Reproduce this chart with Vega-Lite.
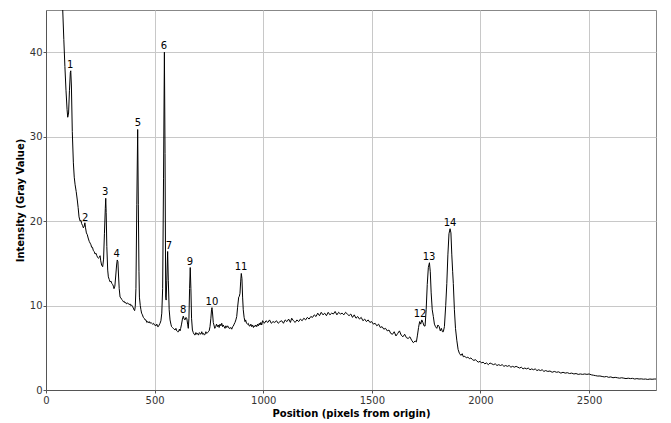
{
  "$schema": "https://vega.github.io/schema/vega-lite/v6.json",
  "width": 610,
  "height": 380,
  "autosize": {"type": "none"},
  "padding": {"left": 46, "top": 10, "right": 15, "bottom": 33},
  "background": "white",
  "config": {
    "font": "DejaVu Sans",
    "view": {"stroke": "#888888", "strokeWidth": 1},
    "axis": {
      "labelFont": "DejaVu Sans", "labelFontSize": 10, "labelColor": "#333333",
      "titleFont": "DejaVu Sans", "titleFontSize": 10, "titleFontWeight": "bold", "titleColor": "#000000",
      "gridColor": "#c8c8c8", "gridWidth": 1, "domainColor": "#555555", "tickColor": "#555555", "tickSize": 3
    }
  },
  "datasets": {
    "profile": [
      {"x":60,"y":60},{"x":72,"y":48},{"x":77,"y":45},{"x":82,"y":41.5},{"x":87,"y":38.3},{"x":92,"y":35.5},{"x":97,"y":33.2},{"x":100,"y":32.3},{"x":104,"y":32.8},{"x":108,"y":35.5},{"x":112,"y":37.6},{"x":114,"y":37.8},{"x":117,"y":36},{"x":121,"y":30.6},{"x":126,"y":26.9},{"x":130,"y":25.2},{"x":134,"y":24.3},{"x":139,"y":23.5},{"x":144,"y":22.5},{"x":148,"y":21.6},{"x":152,"y":20.5},{"x":157,"y":20.0},{"x":161,"y":20.1},{"x":164,"y":19.7},{"x":168,"y":19.5},{"x":172,"y":19.2},{"x":176,"y":19.4},{"x":179,"y":19.8},{"x":182,"y":19.2},{"x":186,"y":18.6},{"x":190,"y":18.4},{"x":194,"y":18.0},{"x":199,"y":17.6},{"x":203,"y":17.4},{"x":207,"y":17.2},{"x":210,"y":16.9},{"x":214,"y":16.9},{"x":218,"y":16.5},{"x":222,"y":16.4},{"x":226,"y":16.1},{"x":230,"y":16.2},{"x":234,"y":15.9},{"x":238,"y":15.7},{"x":241,"y":15.6},{"x":245,"y":15.7},{"x":249,"y":15.9},{"x":252,"y":15.3},{"x":256,"y":14.8},{"x":261,"y":14.6},{"x":265,"y":15.5},{"x":269,"y":18.5},{"x":273,"y":21.5},{"x":275,"y":22.7},{"x":277,"y":21},{"x":280,"y":17},{"x":284,"y":14.2},{"x":287,"y":13.4},{"x":291,"y":13.1},{"x":295,"y":12.8},{"x":299,"y":12.9},{"x":303,"y":12.6},{"x":307,"y":12.5},{"x":310,"y":12.3},{"x":313,"y":12.0},{"x":317,"y":12.3},{"x":321,"y":13.5},{"x":325,"y":14.8},{"x":328,"y":15.4},{"x":331,"y":15.2},{"x":334,"y":13.5},{"x":337,"y":12.0},{"x":341,"y":11.0},{"x":345,"y":10.9},{"x":349,"y":10.7},{"x":353,"y":10.6},{"x":356,"y":10.45},{"x":360,"y":10.5},{"x":364,"y":10.3},{"x":368,"y":10.35},{"x":372,"y":10.2},{"x":376,"y":10.3},{"x":379,"y":10.25},{"x":383,"y":10.1},{"x":387,"y":10.2},{"x":390,"y":10.0},{"x":394,"y":10.06},{"x":398,"y":9.9},{"x":402,"y":9.7},{"x":405,"y":9.5},{"x":408,"y":9.4},{"x":411,"y":9.9},{"x":414,"y":12},{"x":418,"y":22},{"x":422,"y":30.85},{"x":425,"y":22},{"x":428,"y":14},{"x":430,"y":11.0},{"x":434,"y":10.0},{"x":437,"y":9.5},{"x":440,"y":9.1},{"x":444,"y":8.9},{"x":448,"y":8.6},{"x":452,"y":8.5},{"x":456,"y":8.3},{"x":460,"y":8.3},{"x":464,"y":8.0},{"x":468,"y":8.1},{"x":471,"y":7.97},{"x":475,"y":8.1},{"x":479,"y":7.9},{"x":483,"y":8.0},{"x":487,"y":7.9},{"x":491,"y":7.8},{"x":495,"y":7.9},{"x":499,"y":7.7},{"x":502,"y":7.7},{"x":506,"y":7.6},{"x":510,"y":7.8},{"x":514,"y":7.5},{"x":517,"y":7.5},{"x":521,"y":7.7},{"x":525,"y":7.9},{"x":529,"y":8.2},{"x":533,"y":9.1},{"x":537,"y":12},{"x":541,"y":25},{"x":545,"y":40},{"x":548,"y":28},{"x":551,"y":11.0},{"x":553,"y":10.65},{"x":556,"y":13},{"x":560,"y":16.4},{"x":563,"y":13},{"x":567,"y":9.5},{"x":571,"y":8.3},{"x":575,"y":7.8},{"x":578,"y":7.5},{"x":582,"y":7.4},{"x":586,"y":7.3},{"x":590,"y":7.2},{"x":594,"y":7.1},{"x":598,"y":7.3},{"x":602,"y":7.0},{"x":606,"y":6.9},{"x":610,"y":6.9},{"x":614,"y":7.2},{"x":617,"y":7.0},{"x":620,"y":7.3},{"x":624,"y":7.8},{"x":628,"y":8.4},{"x":632,"y":8.75},{"x":636,"y":8.4},{"x":640,"y":8.3},{"x":644,"y":8.6},{"x":648,"y":8.5},{"x":652,"y":7.8},{"x":655,"y":7.3},{"x":658,"y":8.5},{"x":661,"y":12},{"x":664,"y":14.5},{"x":667,"y":12},{"x":670,"y":8.5},{"x":674,"y":7.1},{"x":678,"y":6.8},{"x":682,"y":6.6},{"x":686,"y":6.5},{"x":690,"y":6.8},{"x":694,"y":6.6},{"x":698,"y":6.7},{"x":702,"y":6.5},{"x":706,"y":6.8},{"x":709,"y":6.7},{"x":713,"y":6.6},{"x":717,"y":6.9},{"x":721,"y":6.6},{"x":725,"y":6.7},{"x":729,"y":6.5},{"x":732,"y":6.6},{"x":736,"y":6.9},{"x":740,"y":6.7},{"x":744,"y":6.8},{"x":747,"y":6.9},{"x":751,"y":7.0},{"x":755,"y":7.5},{"x":759,"y":8.5},{"x":762,"y":9.5},{"x":764,"y":9.75},{"x":767,"y":9.0},{"x":770,"y":8.0},{"x":773,"y":7.7},{"x":777,"y":7.3},{"x":781,"y":7.5},{"x":785,"y":7.8},{"x":789,"y":7.5},{"x":793,"y":7.7},{"x":797,"y":7.4},{"x":801,"y":7.8},{"x":805,"y":7.6},{"x":809,"y":7.9},{"x":813,"y":7.5},{"x":816,"y":7.7},{"x":820,"y":7.5},{"x":824,"y":7.3},{"x":828,"y":7.6},{"x":832,"y":7.4},{"x":836,"y":7.6},{"x":839,"y":7.5},{"x":843,"y":7.3},{"x":847,"y":7.3},{"x":851,"y":7.4},{"x":855,"y":7.2},{"x":859,"y":7.5},{"x":862,"y":7.55},{"x":866,"y":7.8},{"x":870,"y":8.0},{"x":874,"y":8.3},{"x":878,"y":8.7},{"x":882,"y":9.8},{"x":887,"y":11.0},{"x":890,"y":11.1},{"x":893,"y":11.45},{"x":896,"y":12.8},{"x":899,"y":13.8},{"x":902,"y":13.2},{"x":905,"y":11},{"x":908,"y":9.5},{"x":912,"y":8.6},{"x":916,"y":8.1},{"x":919,"y":8.3},{"x":923,"y":7.9},{"x":927,"y":7.8},{"x":931,"y":7.9},{"x":935,"y":7.6},{"x":939,"y":7.57},{"x":943,"y":7.8},{"x":947,"y":7.5},{"x":951,"y":7.7},{"x":955,"y":7.4},{"x":958,"y":7.6},{"x":962,"y":7.5},{"x":966,"y":7.7},{"x":970,"y":7.5},{"x":974,"y":7.8},{"x":978,"y":7.6},{"x":982,"y":7.9},{"x":985,"y":7.7},{"x":989,"y":8.0},{"x":993,"y":7.7},{"x":997,"y":8.2},{"x":1001,"y":8.1},
      {"x":1005,"y":7.9},{"x":1013,"y":8.2},{"x":1021,"y":8.0},{"x":1029,"y":8.3},{"x":1037,"y":7.9},{"x":1045,"y":8.1},{"x":1053,"y":8.0},{"x":1061,"y":8.2},{"x":1069,"y":7.9},{"x":1077,"y":8.1},{"x":1085,"y":8.2},{"x":1093,"y":7.9},{"x":1101,"y":8.3},{"x":1109,"y":8.1},{"x":1117,"y":8.4},{"x":1125,"y":8.0},{"x":1131,"y":8.5},{"x":1139,"y":8.2},{"x":1147,"y":8.0},{"x":1155,"y":8.3},{"x":1163,"y":8.1},{"x":1171,"y":8.4},{"x":1179,"y":8.2},{"x":1187,"y":8.5},{"x":1195,"y":8.3},{"x":1203,"y":8.6},{"x":1211,"y":8.4},{"x":1219,"y":8.7},{"x":1227,"y":8.6},{"x":1235,"y":8.9},{"x":1243,"y":8.7},{"x":1251,"y":9.1},{"x":1259,"y":8.8},{"x":1267,"y":9.2},{"x":1275,"y":8.9},{"x":1283,"y":9.1},{"x":1291,"y":8.8},{"x":1299,"y":9.2},{"x":1307,"y":8.9},{"x":1315,"y":9.1},{"x":1323,"y":9.0},{"x":1331,"y":9.3},{"x":1339,"y":8.9},{"x":1347,"y":9.2},{"x":1355,"y":9.0},{"x":1363,"y":9.1},{"x":1371,"y":8.9},{"x":1379,"y":9.2},{"x":1387,"y":9.0},{"x":1395,"y":8.8},{"x":1403,"y":9.0},{"x":1411,"y":8.6},{"x":1419,"y":8.9},{"x":1427,"y":8.5},{"x":1435,"y":8.7},{"x":1443,"y":8.4},{"x":1451,"y":8.6},{"x":1459,"y":8.2},{"x":1467,"y":8.4},{"x":1475,"y":8.1},{"x":1483,"y":8.3},{"x":1491,"y":8.0},{"x":1499,"y":8.1},{"x":1507,"y":7.8},{"x":1515,"y":7.9},{"x":1523,"y":7.6},{"x":1531,"y":7.8},{"x":1539,"y":7.4},{"x":1547,"y":7.5},{"x":1555,"y":7.2},{"x":1563,"y":7.3},{"x":1571,"y":7.0},{"x":1579,"y":7.1},{"x":1587,"y":6.7},{"x":1595,"y":6.6},{"x":1603,"y":6.9},{"x":1611,"y":6.4},{"x":1619,"y":6.7},{"x":1627,"y":7.0},{"x":1635,"y":6.5},{"x":1643,"y":6.3},{"x":1651,"y":6.6},{"x":1659,"y":6.2},{"x":1667,"y":6.1},{"x":1675,"y":6.3},{"x":1683,"y":5.9},{"x":1691,"y":5.6},{"x":1699,"y":5.8},{"x":1705,"y":5.7},{"x":1710,"y":6.5},{"x":1715,"y":7.4},{"x":1720,"y":8.1},{"x":1725,"y":7.8},{"x":1730,"y":8.3},{"x":1735,"y":8.0},{"x":1740,"y":7.6},{"x":1745,"y":7.57},{"x":1750,"y":9.5},{"x":1755,"y":12.5},{"x":1760,"y":14.5},{"x":1765,"y":15.07},{"x":1769,"y":14},{"x":1773,"y":11.5},{"x":1778,"y":9.5},{"x":1783,"y":8.7},{"x":1788,"y":7.8},{"x":1793,"y":7.5},{"x":1799,"y":7.3},{"x":1804,"y":7.7},{"x":1810,"y":7.5},{"x":1815,"y":7.0},{"x":1820,"y":7.3},{"x":1825,"y":6.9},{"x":1829,"y":6.9},{"x":1834,"y":7.5},{"x":1840,"y":10.0},{"x":1845,"y":12.6},{"x":1850,"y":16},{"x":1855,"y":18.5},{"x":1860,"y":19.1},{"x":1864,"y":18.6},{"x":1868,"y":16},{"x":1872,"y":14},{"x":1875,"y":12.6},{"x":1880,"y":9.5},{"x":1885,"y":7.3},{"x":1891,"y":5.9},{"x":1897,"y":4.8},{"x":1903,"y":4.34},{"x":1910,"y":4.1},{"x":1916,"y":4.3},{"x":1921,"y":3.94},{"x":1928,"y":4.0},{"x":1935,"y":3.8},{"x":1942,"y":3.9},{"x":1949,"y":3.7},{"x":1956,"y":3.8},{"x":1963,"y":3.6},{"x":1970,"y":3.5},{"x":1977,"y":3.6},{"x":1984,"y":3.4},{"x":1991,"y":3.3},{"x":1998,"y":3.4},{"x":2005,"y":3.2},{"x":2012,"y":3.3},{"x":2020,"y":3.1},{"x":2028,"y":3.2},{"x":2036,"y":3.0},{"x":2044,"y":3.2},{"x":2052,"y":3.1},{"x":2060,"y":3.0},{"x":2068,"y":3.1},{"x":2076,"y":2.9},{"x":2084,"y":3.0},{"x":2092,"y":2.9},{"x":2100,"y":3.0},{"x":2108,"y":2.8},{"x":2116,"y":2.9},{"x":2124,"y":2.8},{"x":2132,"y":2.9},{"x":2140,"y":2.7},{"x":2148,"y":2.8},{"x":2156,"y":2.7},{"x":2164,"y":2.8},{"x":2172,"y":2.7},{"x":2180,"y":2.6},{"x":2188,"y":2.7},{"x":2196,"y":2.5},{"x":2204,"y":2.6},{"x":2212,"y":2.5},{"x":2220,"y":2.6},{"x":2228,"y":2.4},{"x":2236,"y":2.5},{"x":2244,"y":2.4},{"x":2252,"y":2.5},{"x":2260,"y":2.3},{"x":2268,"y":2.4},{"x":2276,"y":2.3},{"x":2284,"y":2.4},{"x":2292,"y":2.2},{"x":2300,"y":2.3},{"x":2310,"y":2.2},{"x":2320,"y":2.25},{"x":2330,"y":2.1},{"x":2340,"y":2.2},{"x":2350,"y":2.1},{"x":2360,"y":2.15},{"x":2370,"y":2.0},{"x":2380,"y":2.1},{"x":2390,"y":2.0},{"x":2400,"y":2.05},{"x":2410,"y":1.95},{"x":2420,"y":2.0},{"x":2430,"y":1.9},{"x":2440,"y":1.95},{"x":2450,"y":1.85},{"x":2460,"y":1.9},{"x":2470,"y":1.85},{"x":2480,"y":1.9},{"x":2490,"y":1.85},{"x":2500,"y":1.9},{"x":2510,"y":1.8},{"x":2520,"y":1.75},{"x":2530,"y":1.7},{"x":2540,"y":1.65},{"x":2550,"y":1.66},{"x":2560,"y":1.6},{"x":2570,"y":1.55},{"x":2580,"y":1.6},{"x":2590,"y":1.5},{"x":2600,"y":1.55},{"x":2610,"y":1.45},{"x":2620,"y":1.5},{"x":2630,"y":1.45},{"x":2640,"y":1.4},{"x":2650,"y":1.45},{"x":2660,"y":1.4},{"x":2670,"y":1.35},{"x":2680,"y":1.4},{"x":2690,"y":1.35},{"x":2700,"y":1.38},{"x":2710,"y":1.3},{"x":2720,"y":1.35},{"x":2730,"y":1.3},{"x":2740,"y":1.32},{"x":2750,"y":1.28},{"x":2760,"y":1.3},{"x":2770,"y":1.25},{"x":2780,"y":1.3},{"x":2790,"y":1.27},{"x":2800,"y":1.3},{"x":2808,"y":1.3}
    ],
    "peaks": [
      {"label":"1","x":111,"y":37.8},
      {"label":"2","x":180,"y":19.7},
      {"label":"3","x":273,"y":22.7},
      {"label":"4","x":325,"y":15.4},
      {"label":"5","x":423,"y":30.85},
      {"label":"6","x":543,"y":40},
      {"label":"7","x":566,"y":16.4},
      {"label":"8","x":631,"y":8.75},
      {"label":"9","x":663,"y":14.5},
      {"label":"10","x":764,"y":9.75},
      {"label":"11","x":898,"y":13.8},
      {"label":"12","x":1722,"y":8.3},
      {"label":"13","x":1763,"y":15.07},
      {"label":"14","x":1860,"y":19.1}
    ]
  },
  "layer": [
    {
      "data": {"name": "profile"},
      "mark": {"type": "line", "color": "#000000", "strokeWidth": 1, "clip": true, "interpolate": "linear"},
      "encoding": {
        "x": {"field": "x", "type": "quantitative", "scale": {"domain": [0, 2808], "nice": false, "zero": false},
              "axis": {"title": "Position (pixels from origin)", "values": [0, 500, 1000, 1500, 2000, 2500], "format": "d", "labelFlush": false, "titlePadding": 3}},
        "y": {"field": "y", "type": "quantitative", "scale": {"domain": [0, 45], "nice": false},
              "axis": {"title": "Intensity (Gray Value)", "values": [0, 10, 20, 30, 40], "titlePadding": 4, "labelPadding": 1}}
      }
    },
    {
      "data": {"name": "peaks"},
      "mark": {"type": "text", "baseline": "bottom", "dy": -1, "fontSize": 10, "font": "DejaVu Sans", "color": "#000000"},
      "encoding": {
        "x": {"field": "x", "type": "quantitative"},
        "y": {"field": "y", "type": "quantitative"},
        "text": {"field": "label"}
      }
    }
  ]
}
